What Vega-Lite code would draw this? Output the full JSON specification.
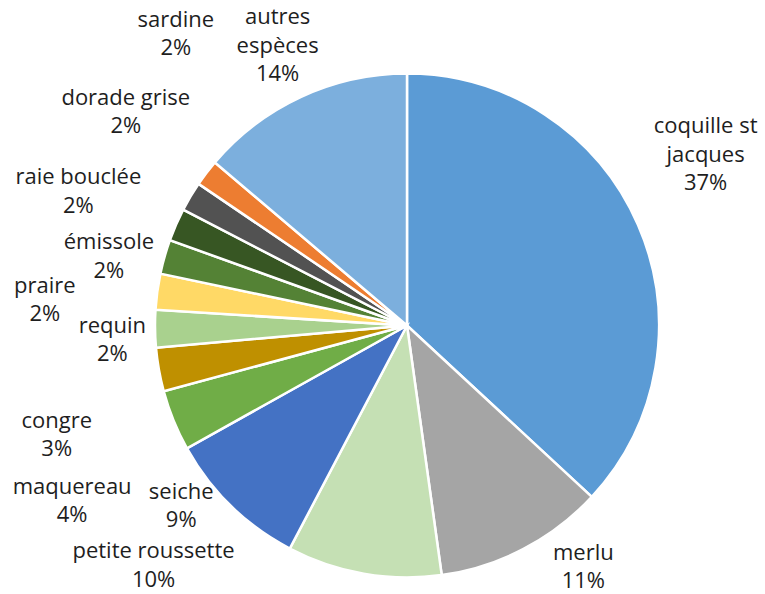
{
  "$schema": "https://vega.github.io/schema/vega-lite/v6.json",
  "width": 716,
  "height": 537,
  "autosize": {"type": "none"},
  "padding": {"left": 49, "top": 57, "right": 0, "bottom": 0},
  "background": "white",
  "config": {"view": {"stroke": null}, "text": {"font": "Open Sans", "fontSize": 22, "lineHeight": 28.5, "lineBreak": "\n", "color": "#1e1e1e", "align": "center", "baseline": "middle", "dy": -14.25}},
  "data": {"values": [
    {"rank": 1, "name": "coquille st\njacques", "value": 36.9},
    {"rank": 2, "name": "merlu", "value": 10.9},
    {"rank": 3, "name": "petite roussette", "value": 9.9},
    {"rank": 4, "name": "seiche", "value": 9.2},
    {"rank": 5, "name": "maquereau", "value": 3.9},
    {"rank": 6, "name": "congre", "value": 2.8},
    {"rank": 7, "name": "requin", "value": 2.4},
    {"rank": 8, "name": "praire", "value": 2.3},
    {"rank": 9, "name": "émissole", "value": 2.2},
    {"rank": 10, "name": "raie bouclée", "value": 2.1},
    {"rank": 11, "name": "dorade grise", "value": 1.9},
    {"rank": 12, "name": "sardine", "value": 1.7},
    {"rank": 13, "name": "autres\nespèces", "value": 13.8}
  ]},
  "transform": [
    {"stack": "value", "groupby": [], "sort": [{"field": "rank", "order": "ascending"}], "as": ["v0", "v1"]},
    {"calculate": "(datum.v0 + datum.v1) / 2", "as": "mid"},
    {"calculate": "datum.name + '\\n' + round(datum.value) + '%'", "as": "label"}
  ],
  "layer": [
    {
      "mark": {"type": "arc", "radius": 252, "stroke": "white", "strokeWidth": 2.5},
      "encoding": {
        "theta": {"field": "v0", "type": "quantitative", "scale": {"domain": [0, 100]}},
        "theta2": {"field": "v1"},
        "color": {
          "field": "rank", "type": "ordinal", "legend": null,
          "scale": {"domain": [1,2,3,4,5,6,7,8,9,10,11,12,13],
            "range": ["#5B9BD5","#A5A5A5","#C5E0B4","#4472C4","#70AD47","#BF9000","#A9D18E","#FFD966","#548235","#375623","#525252","#ED7D31","#7CAFDD"]}
        }
      }
    },
    {"transform": [{"filter": "datum.rank == 1"}], "mark": {"type": "text", "radius": 344, "thetaOffset": -0.108, "dy": -28.5}, "encoding": {"theta": {"field": "mid", "type": "quantitative", "stack": null}, "text": {"field": "label"}}},
    {"transform": [{"filter": "datum.rank == 2"}], "mark": {"type": "text", "radius": 299, "thetaOffset": -0.150}, "encoding": {"theta": {"field": "mid", "type": "quantitative", "stack": null}, "text": {"field": "label"}}},
    {"transform": [{"filter": "datum.rank == 3"}], "mark": {"type": "text", "radius": 349, "thetaOffset": 0.640}, "encoding": {"theta": {"field": "mid", "type": "quantitative", "stack": null}, "text": {"field": "label"}}},
    {"transform": [{"filter": "datum.rank == 4"}], "mark": {"type": "text", "radius": 289, "thetaOffset": 0.124}, "encoding": {"theta": {"field": "mid", "type": "quantitative", "stack": null}, "text": {"field": "label"}}},
    {"transform": [{"filter": "datum.rank == 5"}], "mark": {"type": "text", "radius": 378, "thetaOffset": -0.096}, "encoding": {"theta": {"field": "mid", "type": "quantitative", "stack": null}, "text": {"field": "label"}}},
    {"transform": [{"filter": "datum.rank == 6"}], "mark": {"type": "text", "radius": 367, "thetaOffset": -0.127}, "encoding": {"theta": {"field": "mid", "type": "quantitative", "stack": null}, "text": {"field": "label"}}},
    {"transform": [{"filter": "datum.rank == 7"}], "mark": {"type": "text", "radius": 295, "thetaOffset": -0.037}, "encoding": {"theta": {"field": "mid", "type": "quantitative", "stack": null}, "text": {"field": "label"}}},
    {"transform": [{"filter": "datum.rank == 8"}], "mark": {"type": "text", "radius": 363, "thetaOffset": -0.065}, "encoding": {"theta": {"field": "mid", "type": "quantitative", "stack": null}, "text": {"field": "label"}}},
    {"transform": [{"filter": "datum.rank == 9"}], "mark": {"type": "text", "radius": 306, "thetaOffset": -0.049}, "encoding": {"theta": {"field": "mid", "type": "quantitative", "stack": null}, "text": {"field": "label"}}},
    {"transform": [{"filter": "datum.rank == 10"}], "mark": {"type": "text", "radius": 355, "thetaOffset": -0.024}, "encoding": {"theta": {"field": "mid", "type": "quantitative", "stack": null}, "text": {"field": "label"}}},
    {"transform": [{"filter": "datum.rank == 11"}], "mark": {"type": "text", "radius": 353, "thetaOffset": 0.112}, "encoding": {"theta": {"field": "mid", "type": "quantitative", "stack": null}, "text": {"field": "label"}}},
    {"transform": [{"filter": "datum.rank == 12"}], "mark": {"type": "text", "radius": 372, "thetaOffset": 0.250}, "encoding": {"theta": {"field": "mid", "type": "quantitative", "stack": null}, "text": {"field": "label"}}},
    {"transform": [{"filter": "datum.rank == 13"}], "mark": {"type": "text", "radius": 308, "thetaOffset": 0, "dy": -28.5}, "encoding": {"theta": {"field": "mid", "type": "quantitative", "stack": null}, "text": {"field": "label"}}}
  ]
}
